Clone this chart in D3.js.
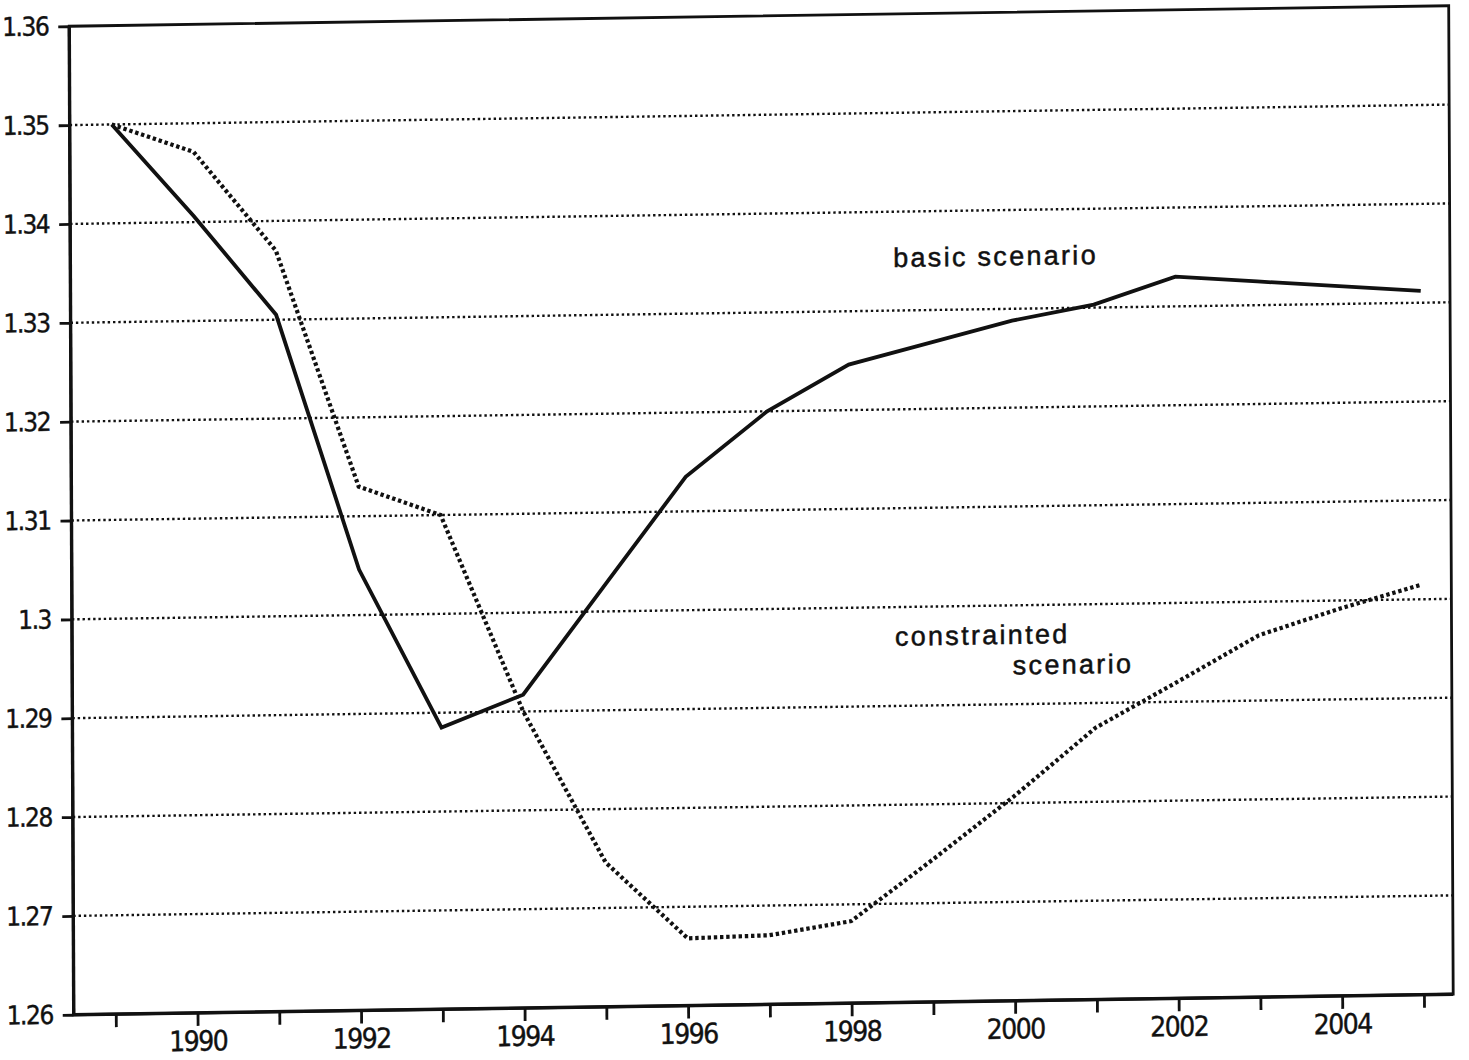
<!DOCTYPE html>
<html>
<head>
<meta charset="utf-8">
<script src="https://cdn.jsdelivr.net/npm/d3@7"></script>
<style>
  body { margin: 0; background: #fff; }
  .tick text { font-family: "Liberation Sans Narrow", "DejaVu Sans Condensed", "Roboto Condensed", sans-serif; fill: #111; }
  .note { font-family: "Liberation Sans", Arial, Helvetica, sans-serif; font-size: 27px; letter-spacing: 2.3px; fill: #111; stroke: #111; stroke-width: 0.5px; }
</style>
</head>
<body>
<svg id="chart" width="1469" height="1060"></svg>
<script>
// Years on the horizontal axis
const years = [1989, 1990, 1991, 1992, 1993, 1994, 1995, 1996, 1997, 1998, 1999, 2000, 2001, 2002, 2003, 2004, 2005];

// Basic scenario (solid line)
const basicScenario = [1.3500, 1.3406, 1.3305, 1.3046, 1.2885, 1.2917, 1.3026, 1.3135, 1.3200, 1.3246,
                       1.3267, 1.3288, 1.3303, 1.3330, 1.3324, 1.3318, 1.3312];

// Constrained scenario (dotted line)
const constrainedScenario = [1.3500, 1.3471, 1.3370, 1.3130, 1.3100, 1.2900, 1.2746, 1.2668, 1.2670, 1.2683,
                             1.2744, 1.2807, 1.2875, 1.2920, 1.2966, 1.2992, 1.3015];

// Axis tick values and labels
const yTicks = [1.26, 1.27, 1.28, 1.29, 1.30, 1.31, 1.32, 1.33, 1.34, 1.35, 1.36];
const gridValues = [1.27, 1.28, 1.29, 1.30, 1.31, 1.32, 1.33, 1.34, 1.35];
const xLabelYears = [1990, 1992, 1994, 1996, 1998, 2000, 2002, 2004];

// Series annotations: text, anchor year, anchor value
const notes = [
  { text: "basic scenario", year: 1998.55, value: 1.3344 },
  { text: "constrainted", year: 1998.55, value: 1.2961 },
  { text: "scenario", year: 1999.99, value: 1.2930 }
];

const W = 1379.6, H = 988.5;
const svg = d3.select("#chart");
svg.append("rect").attr("width", 1469).attr("height", 1060).attr("fill", "#fff");

// The plotted sheet sits slightly askew on the page
const g = svg.append("g")
  .attr("transform", "matrix(0.99989,-0.01486,0.00455,0.99999,69.25,26.25)");

const x = d3.scaleLinear().domain([1988.486, 2005.358]).range([0, W]);
const y = d3.scaleLinear().domain([1.26, 1.36]).range([H, 0]);

// Dotted horizontal grid
g.append("g").selectAll("line").data(gridValues).join("line")
  .attr("x1", 0).attr("x2", W)
  .attr("y1", d => y(d)).attr("y2", d => y(d))
  .attr("stroke", "#111").attr("stroke-width", 2.4)
  .attr("stroke-dasharray", "2.4 2.9");

// Y axis
const yAxis = g.append("g")
  .call(d3.axisLeft(y).tickValues(yTicks).tickSize(11).tickPadding(10)
    .tickFormat(d => String(+d.toFixed(2))));
yAxis.select(".domain").remove();
yAxis.selectAll(".tick line").attr("stroke", "#111").attr("stroke-width", 2.8);
yAxis.selectAll(".tick text").attr("font-size", 26).attr("letter-spacing", "-1.5px")
  .attr("stroke", "#111").attr("stroke-width", 0.4);

// X axis
const xAxis = g.append("g").attr("transform", `translate(0,${H})`)
  .call(d3.axisBottom(x).tickValues(years).tickSize(13).tickPadding(5)
    .tickFormat(d => xLabelYears.includes(d) ? String(d) : ""));
xAxis.select(".domain").remove();
xAxis.selectAll(".tick line").attr("stroke", "#111").attr("stroke-width", 2.8);
xAxis.selectAll(".tick text").attr("font-size", 28).attr("letter-spacing", "-1.5px")
  .attr("stroke", "#111").attr("stroke-width", 0.4);

// Frame
g.append("rect").attr("x", 0).attr("y", 0).attr("width", W).attr("height", H)
  .attr("fill", "none").attr("stroke", "#111").attr("stroke-width", 2.8);
g.append("line").attr("x1", 0).attr("x2", 0).attr("y1", 0).attr("y2", H)
  .attr("stroke", "#111").attr("stroke-width", 3.4);
g.append("line").attr("x1", 0).attr("x2", W).attr("y1", H).attr("y2", H)
  .attr("stroke", "#111").attr("stroke-width", 3.4);

const line = d3.line().x(d => x(d[0])).y(d => y(d[1]));

// Constrained scenario
g.append("path")
  .datum(years.map((yr, i) => [yr, constrainedScenario[i]]))
  .attr("d", line)
  .attr("fill", "none").attr("stroke", "#111").attr("stroke-width", 4.2)
  .attr("stroke-dasharray", "3.4 2.8");

// Basic scenario
g.append("path")
  .datum(years.map((yr, i) => [yr, basicScenario[i]]))
  .attr("d", line)
  .attr("fill", "none").attr("stroke", "#111").attr("stroke-width", 3.8)
  .attr("stroke-linejoin", "miter");

// Annotations
g.append("g").selectAll("text").data(notes).join("text")
  .attr("class", "note")
  .attr("x", d => x(d.year)).attr("y", d => y(d.value))
  .text(d => d.text);
</script>
</body>
</html>
